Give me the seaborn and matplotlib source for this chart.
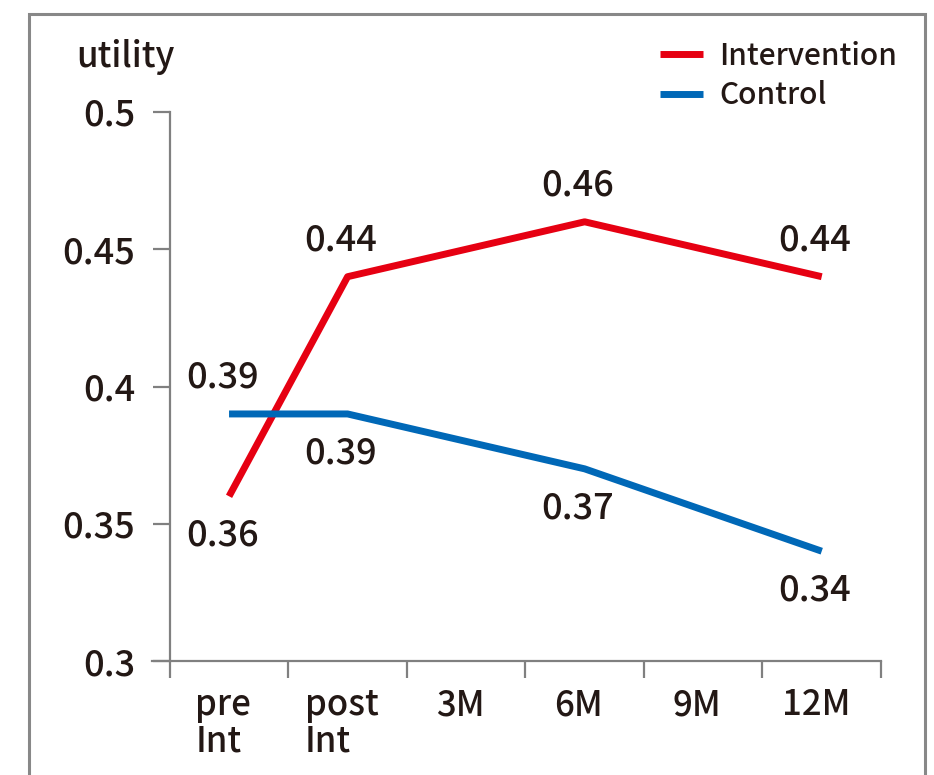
import numpy as np
import pandas as pd
import matplotlib.pyplot as plt
import seaborn as sns
from matplotlib.patches import Rectangle

# Data
time_points = ['pre\nInt', 'post\nInt', '3M', '6M', '9M', '12M']
intervention = [0.36, 0.44, np.nan, 0.46, np.nan, 0.44]
control = [0.39, 0.39, np.nan, 0.37, np.nan, 0.34]
y_ticks = [0.3, 0.35, 0.4, 0.45, 0.5]

# which side of the point each value label sits on (1 = above, -1 = below)
intervention_side = [-1, 1, 0, 1, 0, 1]
control_side = [1, -1, 0, -1, 0, -1]

colors = {'Intervention': '#E60012', 'Control': '#0068B7'}

rows = []
for i, t in enumerate(time_points):
    rows.append({'x': i, 'group': 'Intervention', 'utility': intervention[i]})
    rows.append({'x': i, 'group': 'Control', 'utility': control[i]})
df = pd.DataFrame(rows).dropna()

sns.set_theme(style='white')
plt.rcParams['font.family'] = ['Noto Sans CJK JP', 'DejaVu Sans']
plt.rcParams['font.weight'] = 'medium'

fig = plt.figure(figsize=(9.34, 7.75), dpi=100)
ax = fig.add_axes([152 / 934, 114 / 775, (881 - 152) / 934, (661 - 112) / 775])

sns.lineplot(data=df, x='x', y='utility', hue='group', palette=colors,
             hue_order=['Intervention', 'Control'], linewidth=5,
             solid_capstyle='butt', ax=ax, legend=False)

# value labels
for vals, side in [(intervention, intervention_side), (control, control_side)]:
    for i, v in enumerate(vals):
        if np.isnan(v):
            continue
        dy = 26 if side[i] > 0 else -28.5
        ax.annotate(f'{v:.2f}', (i, v), xytext=(-5, dy), textcoords='offset points',
                    ha='center', va='center', fontsize=26, color='#231815')

ax.set_xlim(-0.65, 5.5)
ax.set_ylim(0.3, 0.5)
ax.set_yticks(y_ticks)
ax.set_yticklabels([f'{t:g}' for t in y_ticks])
ax.set_xticks(np.arange(-0.5, 6, 1))
ax.set_xticklabels([])
# category labels sit a little left of the category centre
ax.set_xticks(np.arange(len(time_points)) - 0.05, minor=True)
ax.set_xticklabels(time_points, minor=True, multialignment='left',
                   linespacing=1.0, va='top')
ax.set_xlabel('')
ax.set_ylabel('')

for s in ['top', 'right']:
    ax.spines[s].set_visible(False)
ax.spines['left'].set_position(('data', -0.5))
for s in ['left', 'bottom']:
    ax.spines[s].set_color('#808080')
    ax.spines[s].set_linewidth(1.6)

ax.tick_params(axis='y', which='major', direction='out', length=12, width=1.6,
               color='#808080', pad=13, labelsize=26, labelcolor='#231815', left=True)
ax.tick_params(axis='x', which='major', direction='out', length=12, width=1.6,
               color='#808080', bottom=True)
ax.tick_params(axis='x', which='minor', length=0, pad=19, labelsize=25,
               labelcolor='#231815', bottom=True)

# legend
handles = [plt.Line2D([], [], color=colors[k], linewidth=5, solid_capstyle='butt')
           for k in ['Intervention', 'Control']]
fig.legend(handles, ['Intervention', 'Control'], loc='upper right',
           bbox_to_anchor=(924 / 934, 1 - 14 / 775), frameon=False, fontsize=21.5,
           handlelength=1.45, handletextpad=0.55, labelspacing=0.28, labelcolor='#231815')

fig.text(125 / 934, 1 - 57 / 775, 'utility', ha='center', va='center',
         fontsize=25, color='#231815')

# outer grey frame
fig.patches.append(Rectangle((29 / 934, -0.1), (925 - 29) / 934, 1.1 - 14 / 775,
                             transform=fig.transFigure, fill=False,
                             edgecolor='#888888', linewidth=2.2))

fig.savefig('out.png', dpi=100)
